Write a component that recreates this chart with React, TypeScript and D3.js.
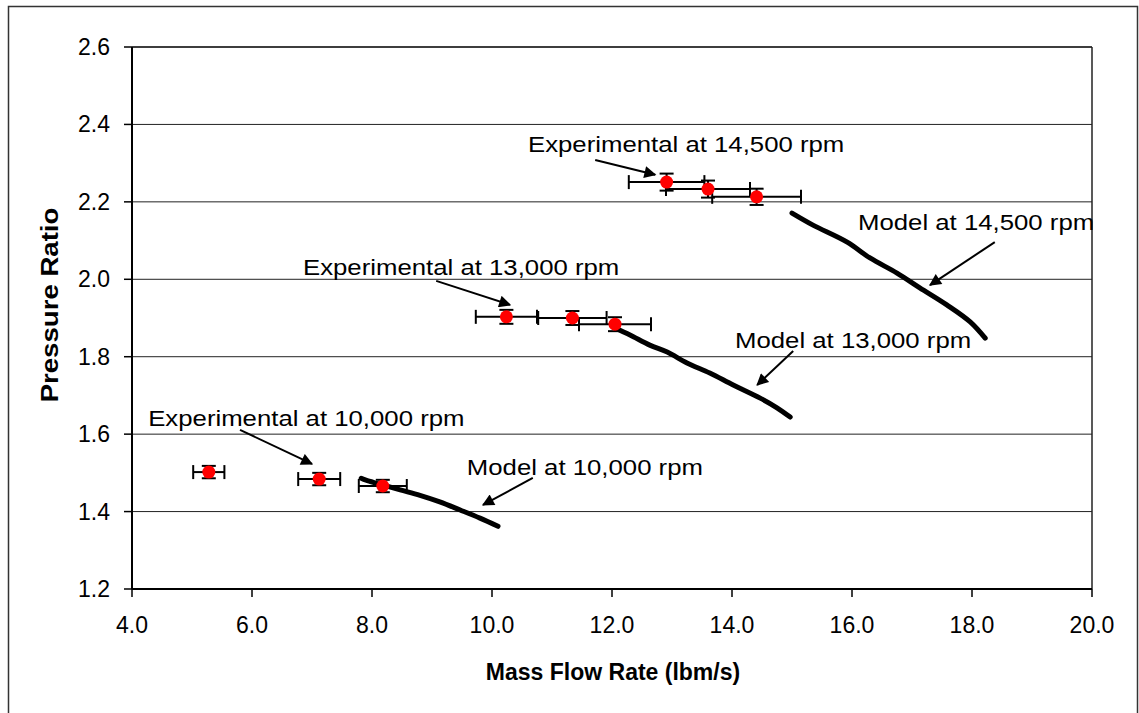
import React from "react";
import * as d3 from "d3";

// Compressor map: pressure ratio vs. mass flow, experiment vs. model at three speeds
const xTicks = [4, 6, 8, 10, 12, 14, 16, 18, 20];
const yTicks = [1.2, 1.4, 1.6, 1.8, 2.0, 2.2, 2.4, 2.6];

// Experimental points: mass flow, pressure ratio, x error, y error
const exp10kFlow = [5.28, 7.12, 8.18];
const exp10kPR = [1.502, 1.484, 1.466];
const exp10kFlowErr = [0.26, 0.35, 0.4];
const exp10kPRErr = [0.016, 0.016, 0.016];

const exp13kFlow = [10.24, 11.34, 12.05];
const exp13kPR = [1.903, 1.9, 1.884];
const exp13kFlowErr = [0.51, 0.57, 0.6];
const exp13kPRErr = [0.018, 0.018, 0.018];

const exp145kFlow = [12.91, 13.6, 14.41];
const exp145kPR = [2.251, 2.233, 2.213];
const exp145kFlowErr = [0.63, 0.7, 0.74];
const exp145kPRErr = [0.022, 0.022, 0.021];

// Model speed lines
const model10kFlow = [7.82, 7.9, 8.1, 8.47, 8.8, 9.13, 9.47, 9.8, 10.1];
const model10kPR = [1.486, 1.481, 1.472, 1.456, 1.442, 1.425, 1.404, 1.383, 1.362];

const model13kFlow = [12.05, 12.3, 12.63, 12.92, 13.25, 13.63, 14.02, 14.47, 14.75, 14.97];
const model13kPR = [1.874, 1.856, 1.83, 1.812, 1.784, 1.758, 1.727, 1.693, 1.668, 1.644];

const model145kFlow = [15.0, 15.35, 15.92, 16.3, 16.75, 17.13, 17.58, 17.97, 18.22];
const model145kPR = [2.171, 2.14, 2.096, 2.055, 2.016, 1.978, 1.934, 1.89, 1.848];

// Callouts: label, label anchor (data units), arrow start and arrow tip (data units)
const calloutText = [
  "Experimental at 14,500 rpm",
  "Experimental at 13,000 rpm",
  "Experimental at 10,000 rpm",
  "Model at 14,500 rpm",
  "Model at 13,000 rpm",
  "Model at 10,000 rpm",
];
const calloutLabelAt: [number, number][] = [
  [10.6, 2.33],
  [6.85, 2.01],
  [4.27, 1.62],
  [16.1, 2.127],
  [14.05, 1.823],
  [9.58, 1.495],
];
const calloutFrom: [number, number][] = [
  [11.72, 2.308],
  [9.07, 1.996],
  [5.8, 1.611],
  [18.38, 2.096],
  [15.02, 1.815],
  [10.68, 1.487],
];
const calloutTo: [number, number][] = [
  [12.72, 2.27],
  [10.3, 1.934],
  [7.0, 1.523],
  [17.3, 1.985],
  [14.42, 1.727],
  [9.85, 1.417],
];

const W = 1139;
const H = 713;
const left = 132;
const right = 1092;
const top = 47;
const bottom = 589;
const FONT = "'Liberation Sans', Arial, sans-serif";

export default function App() {
  const x = d3.scaleLinear().domain([4, 20]).range([left, right]);
  const y = d3.scaleLinear().domain([1.2, 2.6]).range([bottom, top]);

  const line = d3
    .line<[number, number]>()
    .x((d) => x(d[0]))
    .y((d) => y(d[1]))
    .curve(d3.curveCatmullRom);

  const models = [
    d3.zip(model10kFlow, model10kPR) as [number, number][],
    d3.zip(model13kFlow, model13kPR) as [number, number][],
    d3.zip(model145kFlow, model145kPR) as [number, number][],
  ];

  const expSets = [
    { fx: exp10kFlow, py: exp10kPR, ex: exp10kFlowErr, ey: exp10kPRErr },
    { fx: exp13kFlow, py: exp13kPR, ex: exp13kFlowErr, ey: exp13kPRErr },
    { fx: exp145kFlow, py: exp145kPR, ex: exp145kFlowErr, ey: exp145kPRErr },
  ];

  const cap = 7;

  return (
    <svg
      width={W}
      height={H}
      style={{ position: "absolute", left: 0, top: 0, background: "#fff" }}
      fontFamily={FONT}
    >
      <defs>
        <marker
          id="arrowHead"
          viewBox="0 0 10 10"
          refX="9"
          refY="5"
          markerWidth="7"
          markerHeight="6"
          markerUnits="strokeWidth"
          orient="auto"
        >
          <path d="M0,0 L10,5 L0,10 Z" fill="#000" />
        </marker>
      </defs>

      {/* chart frame */}
      <path d={`M8.5,${H + 2} V6.5 H1137.5 V${H + 2}`} fill="none" stroke="#333" strokeWidth={1.5} />

      {/* horizontal gridlines */}
      {yTicks.map((t) => (
        <line key={`g${t}`} x1={left} x2={right} y1={y(t)} y2={y(t)} stroke="#222" strokeWidth={1} />
      ))}
      {/* plot box top and right */}
      <line x1={left} x2={right} y1={top} y2={top} stroke="#222" strokeWidth={1.5} />
      <line x1={right} x2={right} y1={top} y2={bottom} stroke="#222" strokeWidth={1.5} />

      {/* axes */}
      <line x1={left} x2={left} y1={top} y2={bottom} stroke="#000" strokeWidth={2} />
      <line x1={left} x2={right} y1={bottom} y2={bottom} stroke="#000" strokeWidth={2} />

      {yTicks.map((t) => (
        <g key={`yt${t}`}>
          <line x1={left - 8} x2={left} y1={y(t)} y2={y(t)} stroke="#000" strokeWidth={1.5} />
          <text x={110} y={y(t) + 8} textAnchor="end" fontSize={23} fill="#000">
            {d3.format(".1f")(t)}
          </text>
        </g>
      ))}
      {xTicks.map((t) => (
        <g key={`xt${t}`}>
          <line x1={x(t)} x2={x(t)} y1={bottom} y2={bottom + 8} stroke="#000" strokeWidth={1.5} />
          <text x={x(t)} y={633} textAnchor="middle" fontSize={23} fill="#000">
            {d3.format(".1f")(t)}
          </text>
        </g>
      ))}

      {/* axis titles */}
      <text x={613} y={680} textAnchor="middle" fontSize={23} fontWeight="bold" fill="#000">
        Mass Flow Rate (lbm/s)
      </text>
      <text
        transform={`translate(58,305) rotate(-90) scale(1.2,1)`}
        textAnchor="middle"
        fontSize={23}
        fontWeight="bold"
        fill="#000"
      >
        Pressure Ratio
      </text>

      {/* model speed lines */}
      {models.map((m, i) => (
        <path
          key={`m${i}`}
          d={line(m) ?? ""}
          fill="none"
          stroke="#000"
          strokeWidth={5}
          strokeLinecap="round"
          strokeLinejoin="round"
        />
      ))}

      {/* experimental points with error bars */}
      {expSets.map((s, i) =>
        s.fx.map((fx, j) => {
          const cx = x(fx);
          const cy = y(s.py[j]);
          const x0 = x(fx - s.ex[j]);
          const x1 = x(fx + s.ex[j]);
          const y0 = y(s.py[j] - s.ey[j]);
          const y1 = y(s.py[j] + s.ey[j]);
          return (
            <g key={`e${i}-${j}`} stroke="#000" strokeWidth={2}>
              <line x1={x0} x2={x1} y1={cy} y2={cy} />
              <line x1={x0} x2={x0} y1={cy - cap} y2={cy + cap} />
              <line x1={x1} x2={x1} y1={cy - cap} y2={cy + cap} />
              <line x1={cx} x2={cx} y1={y0} y2={y1} />
              <line x1={cx - cap} x2={cx + cap} y1={y0} y2={y0} />
              <line x1={cx - cap} x2={cx + cap} y1={y1} y2={y1} />
            </g>
          );
        })
      )}
      {expSets.map((s, i) =>
        s.fx.map((fx, j) => (
          <circle key={`c${i}-${j}`} cx={x(fx)} cy={y(s.py[j])} r={6.5} fill="#ff0000" />
        ))
      )}

      {/* callouts */}
      {calloutText.map((t, i) => (
        <g key={`a${i}`}>
          <text
            transform={`translate(${x(calloutLabelAt[i][0])},${y(calloutLabelAt[i][1])}) scale(1.12,1)`}
            fontSize={23}
            fill="#000"
          >
            {t}
          </text>
          <line
            x1={x(calloutFrom[i][0])}
            y1={y(calloutFrom[i][1])}
            x2={x(calloutTo[i][0])}
            y2={y(calloutTo[i][1])}
            stroke="#000"
            strokeWidth={2}
            markerEnd="url(#arrowHead)"
          />
        </g>
      ))}
    </svg>
  );
}
